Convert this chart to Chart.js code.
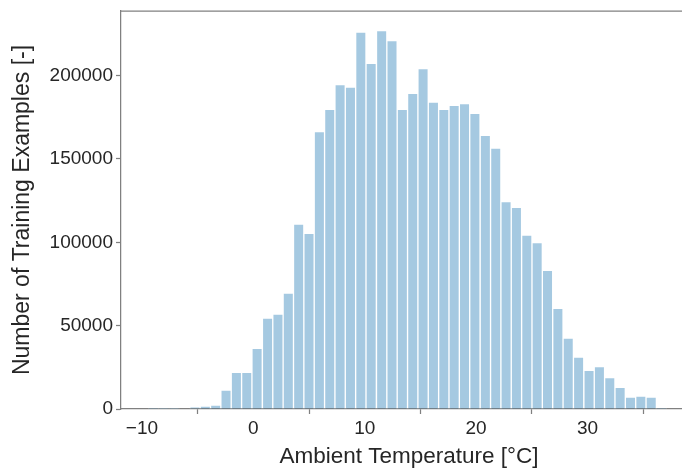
<!DOCTYPE html>
<html>
<head>
<meta charset="utf-8">
<script src="https://cdn.jsdelivr.net/npm/chart.js@4.4.1/dist/chart.umd.min.js"></script>
<style>
  html, body { margin: 0; padding: 0; background: #ffffff; overflow: hidden; }
  #clip { width: 682px; height: 470px; overflow: hidden; position: relative; }
  #wrap { width: 697px; height: 470px; position: relative; }
</style>
</head>
<body>
<div id="clip"><div id="wrap"><canvas id="c"></canvas></div></div>
<script>
// Bin centres (°C) of the 50 histogram bins
const binCenters = [-8.97, -8.03, -7.10, -6.17, -5.24, -4.31, -3.38, -2.45, -1.52, -0.59,
  0.34, 1.28, 2.21, 3.14, 4.07, 5.00, 5.93, 6.86, 7.79, 8.72,
  9.65, 10.58, 11.52, 12.45, 13.38, 14.31, 15.24, 16.17, 17.10, 18.03,
  18.96, 19.89, 20.83, 21.76, 22.69, 23.62, 24.55, 25.48, 26.41, 27.34,
  28.27, 29.20, 30.14, 31.07, 32.00, 32.93, 33.86, 34.79, 35.72, 36.65];
// Number of training examples per bin
const counts = [600, 100, 200, 300, 1000, 1800, 2400, 11400, 22000, 22000,
  36400, 54600, 57000, 69600, 111000, 105400, 166400, 179800, 194600, 193200,
  226200, 207400, 227000, 221000, 179800, 189400, 204200, 184200, 179800, 182200,
  183200, 177400, 164200, 156600, 124400, 121000, 104400, 99800, 83200, 60400,
  42600, 31200, 23200, 25400, 18800, 13000, 7200, 7800, 7200, 600];
const xTickValues = [-10, 0, 10, 20, 30];
const yTickValues = [0, 50000, 100000, 150000, 200000];
const xLabel = 'Ambient Temperature [°C]';
const yLabel = 'Number of Training Examples [-]';

const spineColor = '#808080';
const textColor = '#262626';
const fontFamily = '"Liberation Sans", Arial, sans-serif';

const topSpine = {
  id: 'topSpine',
  afterDraw(chart) {
    const { ctx, chartArea } = chart;
    ctx.save();
    ctx.strokeStyle = spineColor;
    ctx.lineWidth = 1.25;
    ctx.beginPath();
    ctx.moveTo(chartArea.left, chartArea.top);
    ctx.lineTo(chartArea.right, chartArea.top);
    ctx.stroke();
    ctx.restore();
  }
};

new Chart(document.getElementById('c'), {
  type: 'bar',
  data: {
    datasets: [{
      data: binCenters.map((x, i) => ({ x: x, y: counts[i] })),
      backgroundColor: 'rgba(31,119,180,0.4)',
      borderColor: 'rgba(255,255,255,0.5)',
      borderWidth: 1,
      borderSkipped: 'bottom',
      barPercentage: 1.0,
      categoryPercentage: 1.0
    }]
  },
  options: {
    responsive: true,
    maintainAspectRatio: false,
    animation: false,
    layout: { padding: { left: 9, right: 0, top: 11, bottom: 0 } },
    plugins: { legend: { display: false }, tooltip: { enabled: false } },
    scales: {
      x: {
        type: 'linear',
        offset: false,
        min: -11.88,
        max: 39.83,
        afterBuildTicks: s => { s.ticks = xTickValues.map(v => ({ value: v })); },
        afterFit: s => { s.height = 61; s.paddingLeft = 0; s.paddingRight = 0; },
        grid: { drawOnChartArea: false, drawTicks: true, tickLength: 5, tickColor: spineColor, tickWidth: 1.25 },
        border: { display: true, color: spineColor, width: 1.25 },
        ticks: {
          color: textColor,
          font: { family: fontFamily, size: 19 },
          padding: 3,
          maxRotation: 0,
          autoSkip: false,
          callback: v => (v < 0 ? '\u2212' + Math.abs(v) : String(v))
        },
        title: {
          display: true,
          text: xLabel,
          color: textColor,
          font: { family: fontFamily, size: 22.5 },
          padding: { top: 8, bottom: 0 }
        }
      },
      y: {
        type: 'linear',
        min: 0,
        max: 238800,
        afterBuildTicks: s => { s.ticks = yTickValues.map(v => ({ value: v })); },
        afterFit: s => { s.width = 112; s.paddingTop = 0; s.paddingBottom = 0; },
        grid: { drawOnChartArea: false, drawTicks: true, tickLength: 5, tickColor: spineColor, tickWidth: 1.25 },
        border: { display: true, color: spineColor, width: 1.25 },
        ticks: {
          color: textColor,
          font: { family: fontFamily, size: 19 },
          padding: 3,
          autoSkip: false,
          callback: v => String(v)
        },
        title: {
          display: true,
          text: yLabel,
          color: textColor,
          font: { family: fontFamily, size: 23 },
          padding: { top: 0, bottom: 4 }
        }
      }
    }
  },
  plugins: [topSpine]
});
</script>
</body>
</html>
